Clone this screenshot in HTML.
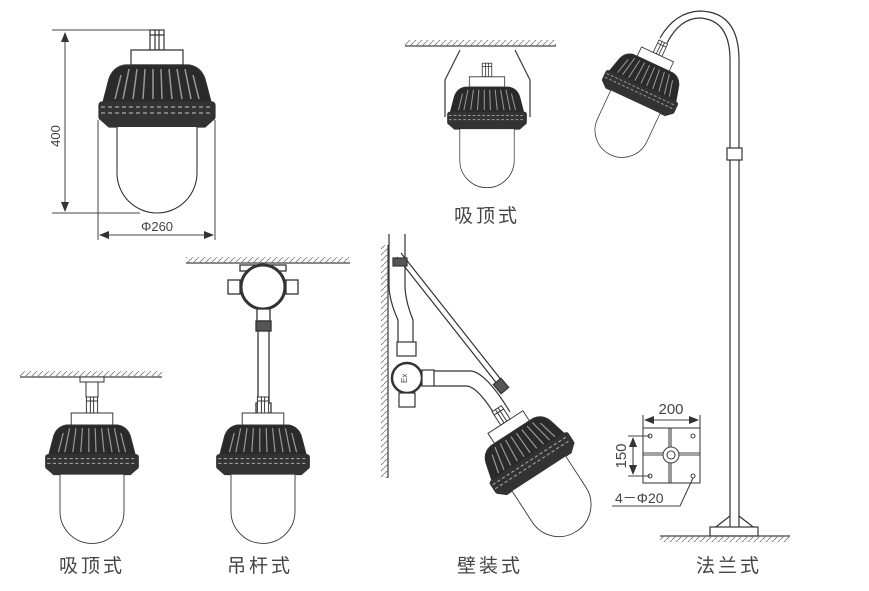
<!DOCTYPE html>
<html><head><meta charset="utf-8"><style>
html,body{margin:0;padding:0;background:#fff}
svg{display:block}
text{font-family:"Liberation Sans","Noto Sans CJK SC",sans-serif;fill:#444}
.l{font-size:19px;letter-spacing:3px}
</style></head><body>
<svg width="869" height="591" viewBox="0 0 869 591" xmlns="http://www.w3.org/2000/svg">
<defs>
<pattern id="hat" width="6" height="6" patternUnits="userSpaceOnUse"><path d="M0 6 L6 0" stroke="#777" stroke-width="0.8"/></pattern>
<g id="lamp" stroke="#333" stroke-width="1.2">
  <rect x="-7" y="-35" width="14" height="20" fill="#fff"/>
  <path d="M-7 -30 H7 M-2 -35 V-15 M2 -35 V-15" fill="none"/>
  <path d="M-26 -15 H26 V0 H-26 Z" fill="#fff"/>
  <path d="M-32 0 H32 Q44 2 48 14 L54 37 H-54 L-48 14 Q-44 2 -32 0 Z" fill="#2a2a2a"/>
  <path d="M-28 4 L-34 34 M-20 4 L-24 34 M-12 4 L-14 34 M-4 4 L-4 34 M4 4 L5 34 M12 4 L15 34 M20 4 L25 34 M28 4 L34 34 M-36 10 L-42 34 M36 10 L42 34" stroke="#999" stroke-width="1.5"/>
  <rect x="-58" y="37" width="116" height="18" rx="3" fill="#333"/>
  <path d="M-56 42 H56 M-56 48 H56" stroke="#aaa" stroke-width="1.3" stroke-dasharray="4 3"/>
  <path d="M-56 55 H56 L48 62 H-48 Z" fill="#333"/>
  <path d="M-40 62 V108 A40 40 0 0 0 40 108 V62" fill="#fff" stroke-width="1.1"/>
</g>
</defs>

<g stroke="#444" stroke-width="1" fill="none">
  <path d="M52 30 H160 M52 213 H140 M65 36 V208"/>
  <path d="M98 120 V240 M215 120 V240 M103 235 H210"/>
</g>
<path d="M65 32 l-4 10 h8 Z M65 212 l-4 -10 h8 Z M99 235 l10 -4 v8 Z M214 235 l-10 -4 v8 Z" fill="#333"/>
<text x="0" y="0" font-size="13" transform="translate(60,136) rotate(-90)" text-anchor="middle">400</text>
<text x="157" y="231" font-size="13" text-anchor="middle">Φ260</text>
<use href="#lamp" transform="translate(157,65)"/>

<path d="M405 46 H556" stroke="#444" stroke-width="1.2"/>
<rect x="405" y="40" width="151" height="6" fill="url(#hat)"/>
<path d="M460 50 L445 80 V117 M515 50 L530 80 V117" stroke="#444" stroke-width="1.3" fill="none"/>
<use href="#lamp" transform="translate(487,87) scale(0.68)"/>
<text x="487" y="222" class="l" text-anchor="middle">吸顶式</text>

<path d="M20 377 H162" stroke="#444" stroke-width="1.2"/>
<rect x="20" y="371" width="142" height="6" fill="url(#hat)"/>
<rect x="80" y="377" width="24" height="5" fill="#fff" stroke="#333"/>
<rect x="86" y="382" width="12" height="15" fill="#fff" stroke="#333"/>
<use href="#lamp" transform="translate(92,425) scale(0.8)"/>
<text x="92" y="572" class="l" text-anchor="middle">吸顶式</text>

<path d="M186 263 H350" stroke="#444" stroke-width="1.2"/>
<rect x="186" y="257" width="164" height="6" fill="url(#hat)"/>
<g stroke="#333" stroke-width="1.3" fill="#fff">
  <rect x="240" y="265" width="46" height="6"/>
  <rect x="228" y="280" width="12" height="14"/>
  <rect x="286" y="280" width="12" height="14"/>
  <circle cx="263" cy="287" r="22" stroke-width="3"/>
  <rect x="257" y="309" width="13" height="12"/>
  <rect x="256" y="321" width="15" height="10" fill="#555"/>
  <rect x="258" y="331" width="11" height="72"/>
  <rect x="256" y="403" width="15" height="10"/>
</g>
<use href="#lamp" transform="translate(263,425) scale(0.8)"/>
<text x="260" y="572" class="l" text-anchor="middle">吊杆式</text>

<path d="M388 245 V478" stroke="#444" stroke-width="1.3"/>
<rect x="381" y="245" width="7" height="233" fill="url(#hat)"/>
<g stroke="#333" stroke-width="1.2" fill="none">
  <path d="M389 234 V285 Q389 300 398 320 V350 M405 234 V285 Q405 300 413 320 V350"/>
  <path d="M397 257 L502 390 M401 253 L506 386"/>
  <rect x="393" y="258" width="14" height="8" fill="#555"/>
  <rect x="397" y="342" width="19" height="14" fill="#fff"/>
  <circle cx="407" cy="378" r="15" fill="#fff" stroke-width="2.5"/>
  <rect x="399" y="393" width="16" height="14" fill="#fff"/>
  <rect x="422" y="370" width="12" height="16" fill="#fff"/>
  <path d="M434 371 H470 Q485 371 510 412 M434 386 H466 Q478 386 498 420"/>
  <rect x="496" y="380" width="10" height="12" fill="#555" transform="rotate(-40 501 386)"/>
</g>
<text x="402" y="382" font-size="8" transform="rotate(-90 405 380)">Ex</text>
<use href="#lamp" transform="translate(532,463) rotate(-33) scale(0.8) translate(0,-46)"/>
<text x="490" y="572" class="l" text-anchor="middle">壁装式</text>

<g stroke="#333" stroke-width="1.2" fill="none">
  <path d="M730 530 V60 Q730 20 700 18 Q680 18 667 43 M739 530 V60 Q739 12 700 11 Q675 12 660 38"/>
  <rect x="727" y="148" width="15" height="12" fill="#fff"/>
  <path d="M712 530 L730 516 M757 530 L739 516"/>
  <rect x="710" y="527" width="48" height="9" fill="#fff"/>
</g>
<path d="M660 536 H790" stroke="#444" stroke-width="1.3"/>
<rect x="660" y="536" width="130" height="6" fill="url(#hat)"/>
<use href="#lamp" transform="translate(640,92) rotate(25) scale(0.68) translate(0,-46)"/>

<g stroke="#444" stroke-width="1.1" fill="none">
  <rect x="643" y="428" width="57" height="55"/>
  <path d="M671 428 V483 M643 455 H700 M669 428 V483 M643 453 H700"/>
  <circle cx="671" cy="455" r="8" fill="#fff"/>
  <circle cx="671" cy="455" r="4"/>
  <circle cx="650" cy="436" r="2"/><circle cx="693" cy="436" r="2"/>
  <circle cx="650" cy="476" r="2"/><circle cx="693" cy="476" r="2"/>
  <path d="M643 428 V415 M700 428 V415 M648 420 H695"/>
  <path d="M628 436 H650 M628 476 H650 M633 441 V471"/>
  <path d="M612 506 H680 L693 478"/>
</g>
<path d="M644 420 l10 -4 v8 Z M699 420 l-10 -4 v8 Z M633 437 l-4 10 h8 Z M633 475 l-4 -10 h8 Z" fill="#333"/>
<text x="671" y="414" font-size="15" text-anchor="middle">200</text>
<text x="0" y="0" font-size="15" text-anchor="middle" transform="translate(626,456) rotate(-90)">150</text>
<text x="615" y="503" font-size="14">4－Φ20</text>
<text x="729" y="572" class="l" text-anchor="middle">法兰式</text>
</svg>
</body></html>
